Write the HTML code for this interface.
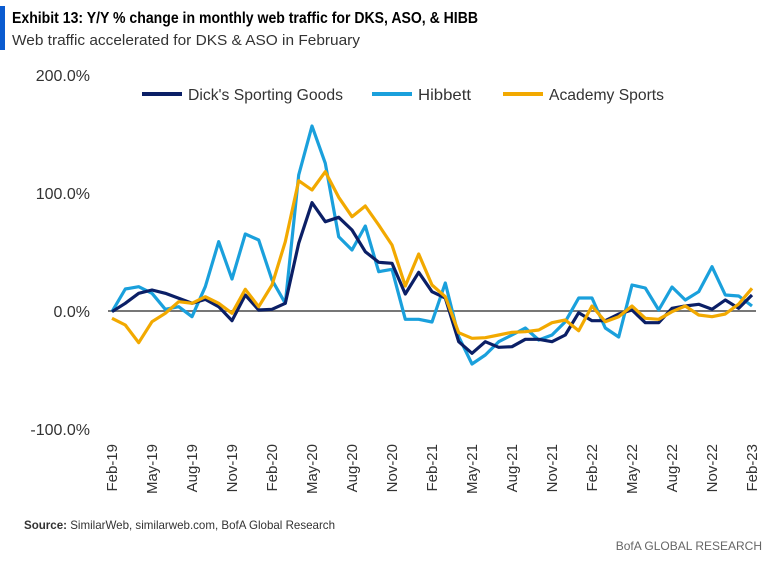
<!DOCTYPE html>
<html><head><meta charset="utf-8"><style>
body{margin:0;background:#fff;width:773px;height:559px;overflow:hidden;font-family:"Liberation Sans",sans-serif}
</style></head><body>
<svg width="773" height="559" xmlns="http://www.w3.org/2000/svg" font-family="Liberation Sans, sans-serif">
<rect x="0" y="6" width="5" height="44" fill="#0a5bd0"/>
<text x="12" y="23" font-size="16" font-weight="bold" fill="#000" textLength="466" lengthAdjust="spacingAndGlyphs">Exhibit 13: Y/Y % change in monthly web traffic for DKS, ASO, &amp; HIBB</text>
<text x="12" y="45" font-size="15" fill="#333" textLength="348" lengthAdjust="spacingAndGlyphs">Web traffic accelerated for DKS &amp; ASO in February</text>
<g font-size="16" fill="#333" text-anchor="end">
<text x="90" y="81">200.0%</text><text x="90" y="199">100.0%</text><text x="90" y="317">0.0%</text><text x="90" y="435">-100.0%</text>
</g>
<line x1="108" y1="311" x2="756" y2="311" stroke="#777" stroke-width="2"/>
<g font-size="16" fill="#333">
<line x1="142" y1="94" x2="182" y2="94" stroke="#0b1f66" stroke-width="4"/><text x="188" y="100" textLength="155" lengthAdjust="spacingAndGlyphs">Dick's Sporting Goods</text>
<line x1="372" y1="94" x2="412" y2="94" stroke="#1aa0dc" stroke-width="4"/><text x="418" y="100" textLength="53" lengthAdjust="spacingAndGlyphs">Hibbett</text>
<line x1="503" y1="94" x2="543" y2="94" stroke="#f2a900" stroke-width="4"/><text x="549" y="100" textLength="115" lengthAdjust="spacingAndGlyphs">Academy Sports</text>
</g>
<g fill="none" stroke-width="3.2" stroke-linejoin="round">
<polyline stroke="#1aa0dc" points="112,311.7 125.3,289 138.7,286.7 152,293.3 165.3,309.3 178.7,306.7 192,316.7 205.3,286.7 218.7,241.7 232,279 245.3,234 258.7,240 272,280 285.3,303.3 298.7,175 312,126 325.3,163.3 338.7,236.7 352,250 365.3,226 378.7,271.7 392,269.3 405.3,319.3 418.7,319.3 432,322 445.3,283 458.7,336.7 472,364 485.3,355 498.7,341.7 512,335 525.3,328 538.7,340 552,335 565.3,321.7 578.7,298 592,298 605.3,328 618.7,337 632,285 645.3,288 658.7,310 672,287 685.3,300 698.7,291.7 712,266.7 725.3,295 738.7,296 752,306"/>
<polyline stroke="#0b1f66" points="112,311.7 125.3,303.3 138.7,293.3 152,290 165.3,293.3 178.7,298.3 192,303.3 205.3,299.3 218.7,306.7 232,320.7 245.3,295 258.7,310 272,309.3 285.3,303.3 298.7,243.3 312,202.7 325.3,221.7 338.7,217.3 352,230 365.3,251.7 378.7,262.3 392,263.3 405.3,294 418.7,272.3 432,291.7 445.3,298 458.7,341.7 472,353.3 485.3,341.7 498.7,347.3 512,346.7 525.3,339.3 538.7,339.3 552,341.7 565.3,335 578.7,312.7 592,320.7 605.3,320.7 618.7,314 632,310 645.3,322.7 658.7,322.7 672,308.3 685.3,306 698.7,304.3 712,309.3 725.3,300 738.7,308.3 752,295"/>
<polyline stroke="#f2a900" points="112,318.3 125.3,325 138.7,342.7 152,321.7 165.3,313.3 178.7,301.7 192,303.3 205.3,296.7 218.7,303.3 232,313.3 245.3,289.3 258.7,306.7 272,285 285.3,241.7 298.7,180.7 312,190 325.3,171.7 338.7,197.3 352,216.7 365.3,206 378.7,225 392,245 405.3,286 418.7,254 432,285 445.3,296.7 458.7,332.7 472,338.3 485.3,337.7 498.7,335 512,332.3 525.3,331.7 538.7,330 552,322.7 565.3,320 578.7,330.7 592,306 605.3,321.7 618.7,316.7 632,306 645.3,318.3 658.7,319.3 672,311.7 685.3,306 698.7,315 712,316.7 725.3,314 738.7,304 752,288.3"/>
</g>
<g font-size="15" fill="#333" text-anchor="end">
<text transform="translate(117,444) rotate(-90)">Feb-19</text>
<text transform="translate(157,444) rotate(-90)">May-19</text>
<text transform="translate(197,444) rotate(-90)">Aug-19</text>
<text transform="translate(237,444) rotate(-90)">Nov-19</text>
<text transform="translate(277,444) rotate(-90)">Feb-20</text>
<text transform="translate(317,444) rotate(-90)">May-20</text>
<text transform="translate(357,444) rotate(-90)">Aug-20</text>
<text transform="translate(397,444) rotate(-90)">Nov-20</text>
<text transform="translate(437,444) rotate(-90)">Feb-21</text>
<text transform="translate(477,444) rotate(-90)">May-21</text>
<text transform="translate(517,444) rotate(-90)">Aug-21</text>
<text transform="translate(557,444) rotate(-90)">Nov-21</text>
<text transform="translate(597,444) rotate(-90)">Feb-22</text>
<text transform="translate(637,444) rotate(-90)">May-22</text>
<text transform="translate(677,444) rotate(-90)">Aug-22</text>
<text transform="translate(717,444) rotate(-90)">Nov-22</text>
<text transform="translate(757,444) rotate(-90)">Feb-23</text>
</g>
<text x="24" y="529" font-size="12" fill="#333" textLength="311" lengthAdjust="spacingAndGlyphs"><tspan font-weight="bold">Source:</tspan> SimilarWeb, similarweb.com, BofA Global Research</text>
<text x="762" y="550" font-size="12" fill="#666" text-anchor="end">BofA GLOBAL RESEARCH</text>
</svg>
</body></html>
